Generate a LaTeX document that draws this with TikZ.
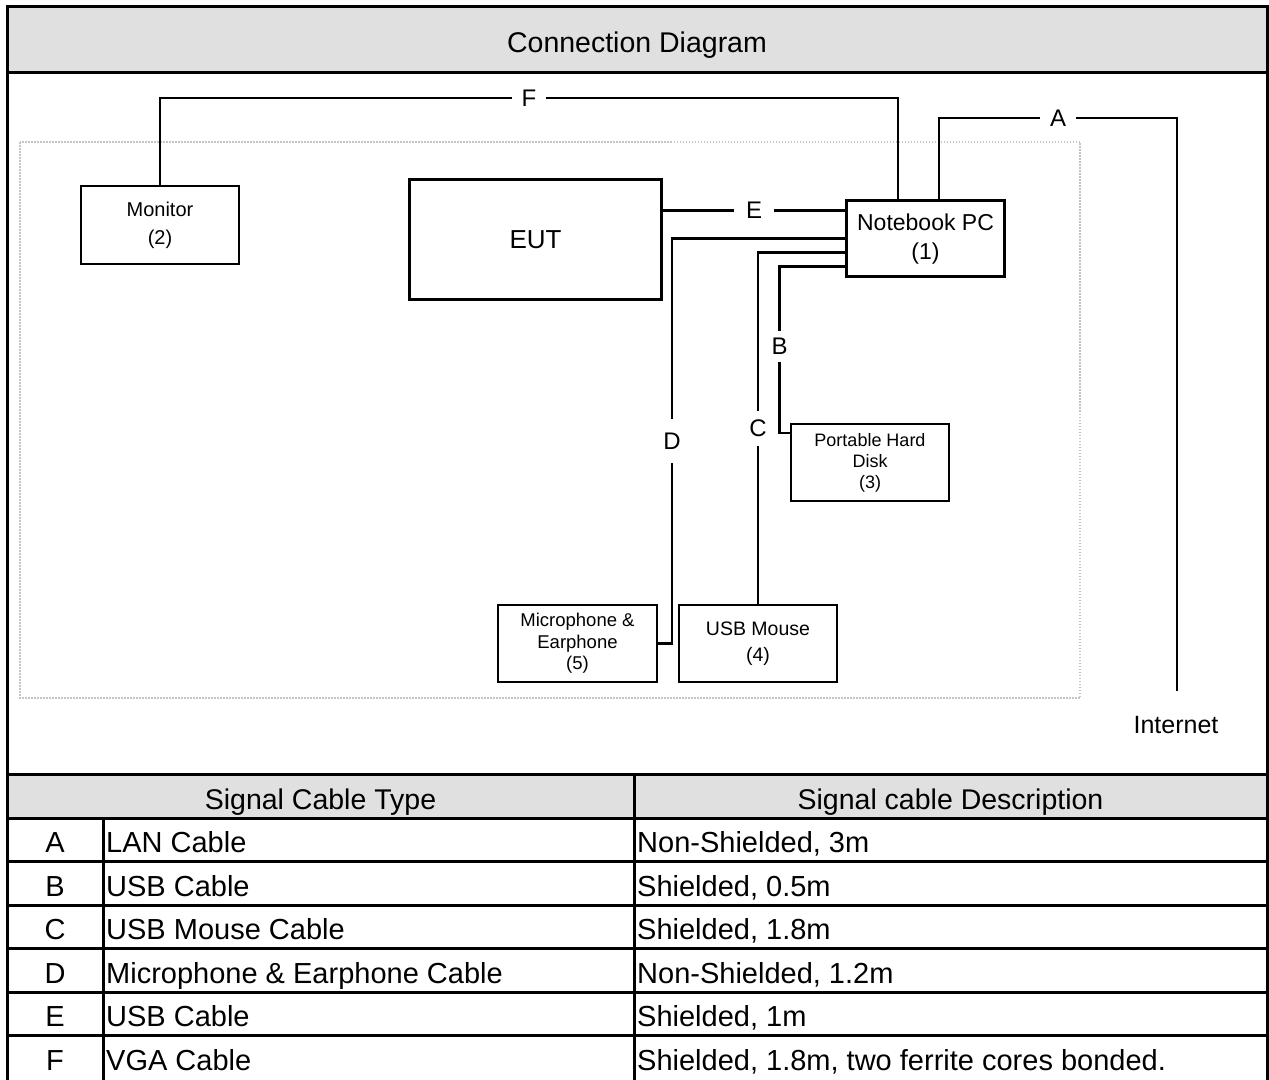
\documentclass[tikz,border=0pt]{standalone}
\usepackage{fontspec}
\setmainfont{Liberation Sans}
\usetikzlibrary{calc}
\definecolor{band}{HTML}{E0E0E0}
\definecolor{dotc}{HTML}{C4C4C4}
\newcommand{\fs}[1]{\fontsize{#1}{#1}\selectfont}
\newcommand{\fsl}[2]{\fontsize{#1}{#2}\selectfont}
\begin{document}
\begin{tikzpicture}[x=1pt,y=-1pt,
  frame/.style={line width=3pt, line cap=rect},
  box/.style={draw, line width=2.6pt, inner sep=0pt, align=center},
  cable/.style={line width=2.6pt},
  lab/.style={fill=white, inner xsep=10pt, inner ysep=9pt, font=\fs{24}},
  cell/.style={anchor=base west, inner sep=0pt, font=\fs{29}},
  letter/.style={anchor=base, inner sep=0pt, font=\fs{29}},
  head/.style={anchor=base, inner sep=0pt, font=\fs{28.5}},
]
\useasboundingbox (0,0) rectangle (1269,1079);

% grey bands
\fill[band] (7,6) rectangle (1267,72);
\fill[band] (7,774) rectangle (1267,818);

% dotted test area
\draw[dotc, line width=1.5pt, dash pattern=on 1.5pt off 1.5pt] (20,142) rectangle (1080,698);

% devices
\node[box, minimum width=158pt, minimum height=78pt, font=\fsl{20}{28}] (mon) at (160,225) {Monitor\\(2)};
\node[box, minimum width=252pt, minimum height=120pt, font=\fs{26}] (eut) at (535.5,239.5) {EUT};
\node[box, minimum width=158pt, minimum height=76pt, font=\fsl{23}{29}] (nb) at (925.5,238.7) {Notebook PC\\(1)};
\node[box, minimum width=158pt, minimum height=77pt, font=\fsl{18}{21}] (phd) at (870,462.5) {Portable Hard\\Disk\\(3)};
\node[box, minimum width=158pt, minimum height=77pt, font=\fsl{19.5}{26}] (mouse) at (758,643.5) {USB Mouse\\(4)};
\node[box, minimum width=159pt, minimum height=77pt, font=\fsl{18.5}{21.5}] (mic) at (577.5,643.5) {Microphone \&\\Earphone\\(5)};

% cable F
\coordinate (f2) at (898,98);
\draw[cable] (mon.north) -- (mon.north |- f2) -- node[lab]{F} (f2) -- (f2 |- nb.north);

% cable A
\coordinate (a1) at (939,118);
\coordinate (inet) at (1177,691);
\draw[cable] (a1 |- nb.north) -- (a1) -- node[lab]{A} (inet |- a1) -- (inet);
\node[font=\fs{25}, anchor=base] (inettext) at (1176,733) {Internet};

% cable E
\coordinate (ey) at (0,210.7);
\draw[cable] (eut.east |- ey) -- node[lab, inner xsep=12pt]{E} (nb.west |- ey);

% cable D
\coordinate (d1) at (672,238.7);
\coordinate (d2) at (672,643.3);
\draw[cable] (nb.west |- d1) -- (d1) -- node[lab, inner ysep=14pt]{D} (d2) -- (mic.east |- d2);

% cable C
\coordinate (c1) at (758,252.7);
\draw[cable] (nb.west |- c1) -- (c1) -- node[lab, inner ysep=9pt]{C} (mouse.north);

% cable B
\coordinate (b1) at (779.5,266.7);
\coordinate (b2) at (779.5,433);
\draw[cable] (nb.west |- b1) -- (b1) -- node[lab, pos=0.48, inner ysep=7pt]{B} (b2) -- (phd.west |- b2);

% frame and table rules
\draw[frame] (7,1079) -- (7,6) -- (1267,6) -- (1267,1079);
\foreach \yy in {72,774,818,861.5,905,948.5,992,1035.5}
  \draw[frame] (7,\yy) -- (1267,\yy);
\draw[frame] (634,774) -- (634,1079);
\draw[frame] (103,818) -- (103,1079);

% texts
\node[head] (title) at (637,52) {Connection Diagram};
\node[head] (h1) at (320.5,809) {Signal Cable Type};
\node[head] (h2) at (950.5,809) {Signal cable Description};

\node[letter] (lA) at (55,852.5) {A};
\node[cell] (tA) at (106,852.5) {LAN Cable};
\node[cell] (dA) at (637,852.5) {Non-Shielded, 3m};

\node[letter] (lB) at (55,896) {B};
\node[cell] (tB) at (106,896) {USB Cable};
\node[cell] (dB) at (637,896) {Shielded, 0.5m};

\node[letter] (lC) at (55,939.5) {C};
\node[cell] (tC) at (106,939.5) {USB Mouse Cable};
\node[cell] (dC) at (637,939.5) {Shielded, 1.8m};

\node[letter] (lD) at (55,983) {D};
\node[cell] (tD) at (106,983) {Microphone \& Earphone Cable};
\node[cell] (dD) at (637,983) {Non-Shielded, 1.2m};

\node[letter] (lE) at (55,1026.5) {E};
\node[cell] (tE) at (106,1026.5) {USB Cable};
\node[cell] (dE) at (637,1026.5) {Shielded, 1m};

\node[letter] (lF) at (55,1070) {F};
\node[cell] (tF) at (106,1070) {VGA Cable};
\node[cell] (dF) at (637,1070) {Shielded, 1.8m, two ferrite cores bonded.};
\end{tikzpicture}
\end{document}
